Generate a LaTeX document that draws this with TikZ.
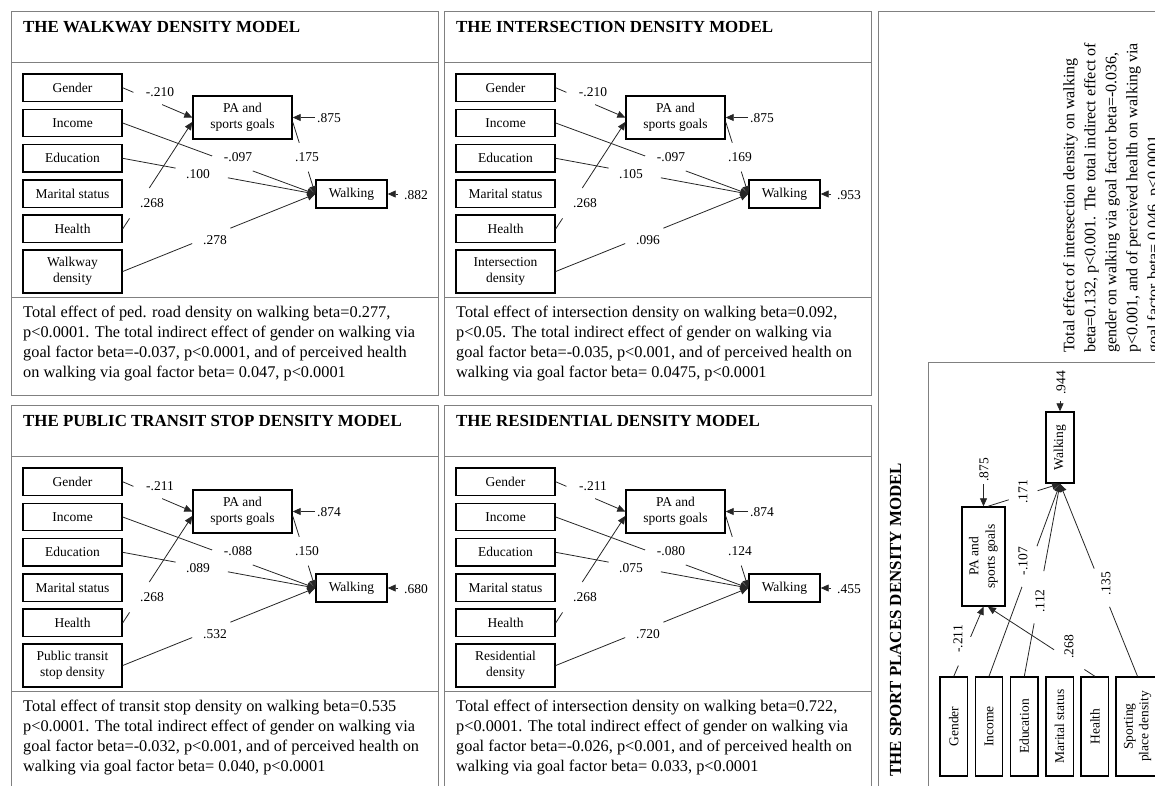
\documentclass[tikz,border=0pt]{standalone}
\usepackage{fontspec}
\setmainfont{Liberation Serif}
\usetikzlibrary{arrows.meta}

% one path model, drawn from the top left corner of the Gender box
\newcommand{\drawmodel}[8]{%
  \node[obs] (gen) at (49.5,13.75) {Gender};
  \node[obs] (inc) at (49.5,49) {Income};
  \node[obs] (edu) at (49.5,84.3) {Education};
  \node[obs] (mar) at (49.5,119.6) {Marital status};
  \node[obs] (hea) at (49.5,154.9) {Health};
  \node[obs, minimum height=43pt] (expo) at (49.5,197.5) {#1};
  \node[obs, minimum height=43pt, font=\fontsize{13.5}{16.5}\selectfont] (goal) at (219.5,43.5) {PA and\\sports goals};
  \node[obs, minimum width=71pt, minimum height=28pt] (walk) at (328.5,120) {Walking};
  \draw[link] (gen.east) -- node[cutgap=31pt, pos=.36] {} (goal.west);
  \draw[link] (inc.east) -- node[cutgap=43pt, pos=.57] {} (walk.west);
  \draw[link] (edu.east) -- node[cutgap=53pt, pos=.41] {} (walk.west);
  \draw[link] (hea.east) -- node[cutgap=36pt, pos=.24] {} (goal.185);
  \draw[link] (expo.east) -- node[cutgap=41pt, pos=.46] {} (walk.west);
  \draw[link] (goal.-5) -- node[cutgap=30pt, pos=.49] {} (walk.west);
  \node[coef] (lgen) at (137,18) {#2};
  \node[coef] (linc) at (215,83) {#3};
  \node[coef] (ledu) at (175,100) {#4};
  \node[coef] (lhea) at (129,129) {.268};
  \node[coef] (lexp) at (192,166) {#5};
  \node[coef] (lgoal) at (284,83) {#6};
  \coordinate (egoal) at (292,43.5);
  \node[coef, anchor=west] (rgoal) at (293,44) {#7};
  \draw[link] (egoal) -- (goal.east);
  \coordinate (ewalk) at (375,120);
  \node[coef, anchor=west] (rwalk) at (380,121) {#8};
  \draw[link] (ewalk) -- (walk.east);
}

% frame, heading and note of a landscape panel
\newcommand{\drawpanel}[2]{%
  \draw[panelline] (-12,-63) rectangle (415,321);
  \draw[panelline] (-12,-12) -- (415,-12) (-12,223) -- (415,223);
  \node[ttl] (title) at (0,-42) {#1};
  \node[note] (notes) at (0,232) {#2};
}

\begin{document}
\begin{tikzpicture}[x=1pt, y=-1pt,
    obs/.style={draw, line width=1.4pt, minimum width=99pt, minimum height=27.5pt, inner sep=0pt, align=center, font=\fontsize{13.5}{15.5}\selectfont},
    coef/.style={inner sep=1pt, font=\fontsize{13.5}{15.5}\selectfont},
    link/.style={draw=black!85, line width=0.8pt, -{Triangle[length=8pt,width=7pt]}},
    cutgap/.style={sloped, fill=white, inner sep=0pt, minimum height=4pt, minimum width=#1},
    panelline/.style={draw=black!50, line width=1pt},
    ttl/.style={anchor=base west, inner sep=0pt, font=\fontsize{16.9}{20}\selectfont\bfseries},
    note/.style={anchor=north west, inner sep=0pt, align=left, font=\fontsize{16.3}{20}\selectfont}]
  \useasboundingbox (0,0) rectangle (1155,785);

  \begin{scope}[shift={(23,74)}]
    \drawpanel{THE WALKWAY DENSITY MODEL}{Total effect of ped. road density on walking beta=0.277,\\p<0.0001. The total indirect effect of gender on walking via\\goal factor beta=-0.037, p<0.0001, and of perceived health\\on walking via goal factor beta= 0.047, p<0.0001}
    \drawmodel{Walkway\\density}{-.210}{-.097}{.100}{.278}{.175}{.875}{.882}
  \end{scope}

  \begin{scope}[shift={(456,74)}]
    \drawpanel{THE INTERSECTION DENSITY MODEL}{Total effect of intersection density on walking beta=0.092,\\p<0.05. The total indirect effect of gender on walking via\\goal factor beta=-0.035, p<0.001, and of perceived health on\\walking via goal factor beta= 0.0475, p<0.0001}
    \drawmodel{Intersection\\density}{-.210}{-.097}{.105}{.096}{.169}{.875}{.953}
  \end{scope}

  \begin{scope}[shift={(23,468)}]
    \drawpanel{THE PUBLIC TRANSIT STOP DENSITY MODEL}{Total effect of transit stop density on walking beta=0.535\\p<0.0001. The total indirect effect of gender on walking via\\goal factor beta=-0.032, p<0.001, and of perceived health on\\walking via goal factor beta= 0.040, p<0.0001}
    \drawmodel{Public transit\\stop density}{-.211}{-.088}{.089}{.532}{.150}{.874}{.680}
  \end{scope}

  \begin{scope}[shift={(456,468)}]
    \drawpanel{THE RESIDENTIAL DENSITY MODEL}{Total effect of intersection density on walking beta=0.722,\\p<0.0001. The total indirect effect of gender on walking via\\goal factor beta=-0.026, p<0.001, and of perceived health on\\walking via goal factor beta= 0.033, p<0.0001}
    \drawmodel{Residential\\density}{-.211}{-.080}{.075}{.720}{.124}{.874}{.455}
  \end{scope}

  % sport places panel, turned on its side
  \draw[panelline] (1170,11) -- (878,11) -- (878,800);
  \draw[panelline] (928,800) -- (928,362) -- (1170,362);
  \node[ttl, rotate=90] (sporttitle) at (901,777) {THE SPORT PLACES DENSITY MODEL};
  \node[note, rotate=90, font=\fontsize{16}{21}\selectfont] (sportnote) at (1063,353) {Total effect of intersection density on walking\\beta=0.132, p<0.001. The total indirect effect of\\gender on walking via goal factor beta=-0.036,\\p<0.001, and of perceived health on walking via\\goal factor beta= 0.046, p<0.0001};
  \begin{scope}[shift={(940,776)}, rotate=90, transform shape]
    \drawmodel{Sporting\\place density}{-.211}{-.107}{.112}{.135}{.171}{.875}{.944}
  \end{scope}
\end{tikzpicture}
\end{document}
